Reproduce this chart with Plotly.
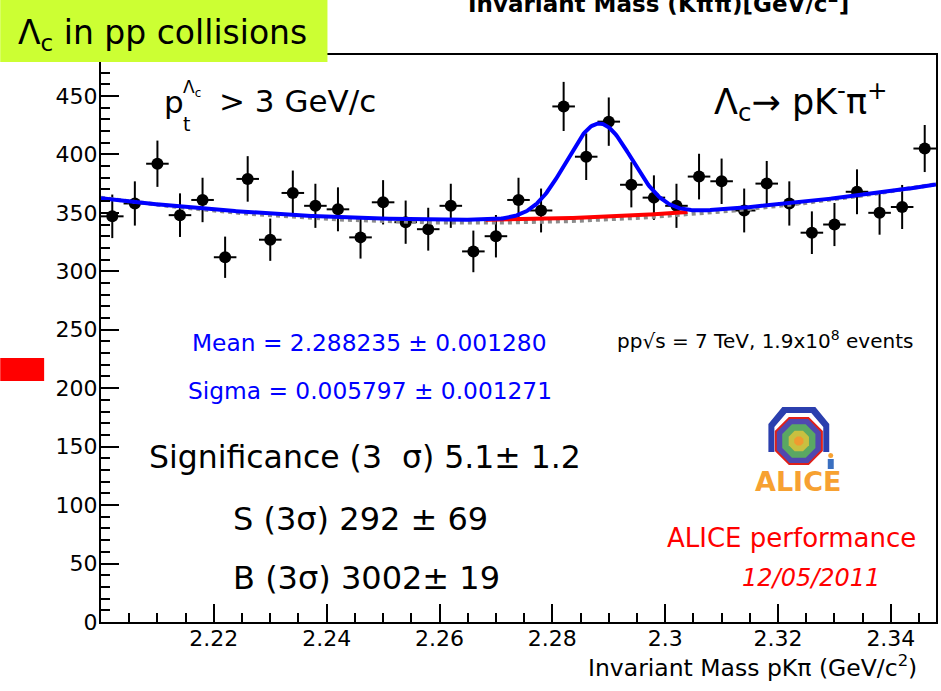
import numpy as np
import plotly.graph_objects as go

# ---------------- data ----------------
mass_bins = [2.202, 2.206, 2.210, 2.214, 2.218, 2.222, 2.226, 2.230, 2.234, 2.238,
             2.242, 2.246, 2.250, 2.254, 2.258, 2.262, 2.266, 2.270, 2.274, 2.278,
             2.282, 2.286, 2.290, 2.294, 2.298, 2.302, 2.306, 2.310, 2.314, 2.318,
             2.322, 2.326, 2.330, 2.334, 2.338, 2.342, 2.346]
counts = [347, 358, 392, 348, 361, 312, 379, 327, 367, 356,
          353, 329, 359, 342, 336, 356, 317, 330, 361, 352,
          441, 398, 428, 374, 363, 356, 381, 377, 352, 375,
          358, 333, 340, 368, 350, 355, 405]
bin_half_width = 0.002

# fit parameters (Gaussian + quadratic background)
fit_mean = 2.288235
fit_sigma = 0.005797
fit_amp = 80.0
bkg_min, bkg_curv, bkg_vertex = 344.0, 4380.0, 2.265
side_min, side_curv, side_vertex = 341.5, 4900.0, 2.266
signal_region = [2.268, 2.304]

x_tick_vals = [2.22, 2.24, 2.26, 2.28, 2.30, 2.32, 2.34]
x_tick_text = ["2.22", "2.24", "2.26", "2.28", "2.3", "2.32", "2.34"]
x_range = [2.2, 2.348]
y_range = [0, 485]

# ---------------- figure ----------------
W, H = 941, 691
L, R, T, B = 101, 938, 55, 622
FONT = "DejaVu Sans"


def px(x):
    return (x - L) / (R - L)


def py(y):
    return (B - y) / (B - T)


xg = np.linspace(x_range[0], x_range[1], 700)
bkg = bkg_min + bkg_curv * (xg - bkg_vertex) ** 2
total = bkg + fit_amp * np.exp(-0.5 * ((xg - fit_mean) / fit_sigma) ** 2)
side = side_min + side_curv * (xg - side_vertex) ** 2
mask = (xg >= signal_region[0]) & (xg <= signal_region[1])

fig = go.Figure()
fig.add_trace(go.Scatter(
    x=mass_bins, y=counts, mode="markers",
    marker=dict(color="black", size=12),
    error_y=dict(type="data", array=list(np.sqrt(counts)), color="black", thickness=2, width=0),
    error_x=dict(type="constant", value=bin_half_width, color="black", thickness=2, width=0),
    showlegend=False, hoverinfo="skip"))
fig.add_trace(go.Scatter(x=xg, y=side, mode="lines",
                         line=dict(color="#8c8c8c", width=4, dash="4px,4px"),
                         showlegend=False, hoverinfo="skip"))
fig.add_trace(go.Scatter(x=xg[mask], y=bkg[mask], mode="lines",
                         line=dict(color="#ff0000", width=4),
                         showlegend=False, hoverinfo="skip"))
fig.add_trace(go.Scatter(x=xg, y=total, mode="lines",
                         line=dict(color="#0000ff", width=4),
                         showlegend=False, hoverinfo="skip"))


def txt(s, x, y, size, color="black", anchor="left", style="normal", weight="normal"):
    return dict(text=s, x=px(x), y=py(y), xref="paper", yref="paper",
                xanchor=anchor, yanchor="middle", showarrow=False,
                font=dict(family=FONT, size=size, color=color, style=style, weight=weight))


annotations = [
    txt("<b>Invariant Mass (Kππ)[GeV/c<sup>2</sup>]</b>", 660, 2, 23, anchor="center"),
    txt("Λ<sub>c</sub> in pp collisions", 16, 34, 33),
    txt("p", 162, 102, 31),
    txt("Λ<sub>c</sub>", 181, 88, 17),
    txt("t", 181, 124, 19),
    txt("> 3 GeV/c", 217, 101, 31),
    txt("Λ<sub>c</sub>→ pK<sup>-</sup>π<sup>+</sup>", 713, 101, 35),
    txt("Mean = 2.288235 ± 0.001280", 190, 342, 23.3, color="#0000ff"),
    txt("Sigma = 0.005797 ± 0.001271", 186, 390, 23.3, color="#0000ff"),
    txt("pp√s = 7 TeV, 1.9x10<sup>8</sup> events", 616, 340, 20),
    txt("Significance (3  σ) 5.1± 1.2", 147, 457, 31.5),
    txt("S (3σ) 292 ± 69", 231, 519, 32),
    txt("B (3σ) 3002± 19", 231, 578, 32),
    txt("ALICE performance", 666, 538, 26, color="#ff0000"),
    txt("12/05/2011", 742, 578, 24, color="#ff0000", style="italic"),
    txt("ALICE", 800, 481, 27, color="#f7a131", anchor="center", weight="bold"),
    txt("Invariant Mass pKπ (GeV/c<sup>2</sup>)", 921, 666, 23.5, anchor="right"),
]


def path(points):
    return "M " + " L ".join(f"{px(a):.5f},{py(b):.5f}" for a, b in points) + " Z"


def octagon(cx, cy, r):
    pts = []
    for k in range(8):
        ang = np.deg2rad(22.5 + 45 * k)
        pts.append((cx + r * np.cos(ang), cy + r * np.sin(ang)))
    return path(pts)


shapes = [
    # green label box
    dict(type="rect", xref="paper", yref="paper", x0=px(0), x1=px(328), y0=py(62), y1=py(0),
         fillcolor="#ccff33", line=dict(width=0), layer="above"),
    # red marker at left
    dict(type="rect", xref="paper", yref="paper", x0=px(0), x1=px(44), y0=py(381), y1=py(358),
         fillcolor="#ff0000", line=dict(width=0), layer="above"),
    # ALICE logo: blue arch
    dict(type="path", xref="paper", yref="paper", layer="above",
         path=path([(770, 452), (770, 424), (784, 407), (817, 407), (831, 424), (831, 452),
                    (825, 452), (825, 427), (813, 413), (788, 413), (776, 427), (776, 452)]),
         fillcolor="#2b3fae", line=dict(width=0)),
    dict(type="path", xref="paper", yref="paper", layer="above", path=octagon(800.5, 441, 25),
         fillcolor="#5048b0", line=dict(color="#e0201a", width=2)),
    dict(type="path", xref="paper", yref="paper", layer="above", path=octagon(800.5, 441, 18),
         fillcolor="#5aa863", line=dict(width=0)),
    dict(type="path", xref="paper", yref="paper", layer="above", path=octagon(800.5, 441, 11),
         fillcolor="#c8c040", line=dict(width=0)),
    dict(type="path", xref="paper", yref="paper", layer="above", path=octagon(800.5, 441, 5),
         fillcolor="#f09a30", line=dict(width=0)),
    # little figure
    dict(type="circle", xref="paper", yref="paper", layer="above",
         x0=px(830), x1=px(835), y0=py(458), y1=py(453), fillcolor="#f7a131", line=dict(width=0)),
    dict(type="rect", xref="paper", yref="paper", layer="above",
         x0=px(829.5), x1=px(835.5), y0=py(469), y1=py(459), fillcolor="#3a6fc0", line=dict(width=0)),
]

fig.update_layout(
    width=W, height=H,
    margin=dict(l=L, r=W - R, t=T, b=H - B, pad=0),
    paper_bgcolor="white", plot_bgcolor="white",
    font=dict(family=FONT, size=22, color="black"),
    annotations=annotations, shapes=shapes,
    xaxis=dict(range=x_range, tickmode="array", tickvals=x_tick_vals, ticktext=x_tick_text,
               ticks="inside", ticklen=18, tickwidth=2, tickcolor="black", ticklabelstandoff=-4,
               minor=dict(tickmode="linear", tick0=2.2, dtick=0.005, ticks="inside", ticklen=9,
                          tickwidth=2, tickcolor="black", showgrid=False),
               showgrid=False, zeroline=False, showline=True, linecolor="black", linewidth=2,
               mirror=True, tickfont=dict(family=FONT, size=22)),
    yaxis=dict(range=y_range, tickmode="linear", tick0=0, dtick=50,
               ticks="inside", ticklen=18, tickwidth=2, tickcolor="black", ticklabelstandoff=-3,
               minor=dict(tickmode="linear", tick0=0, dtick=10, ticks="inside", ticklen=9,
                          tickwidth=2, tickcolor="black", showgrid=False),
               showgrid=False, zeroline=False, showline=True, linecolor="black", linewidth=2,
               mirror=True, tickfont=dict(family=FONT, size=22)),
)

fig.write_html("out.html")
